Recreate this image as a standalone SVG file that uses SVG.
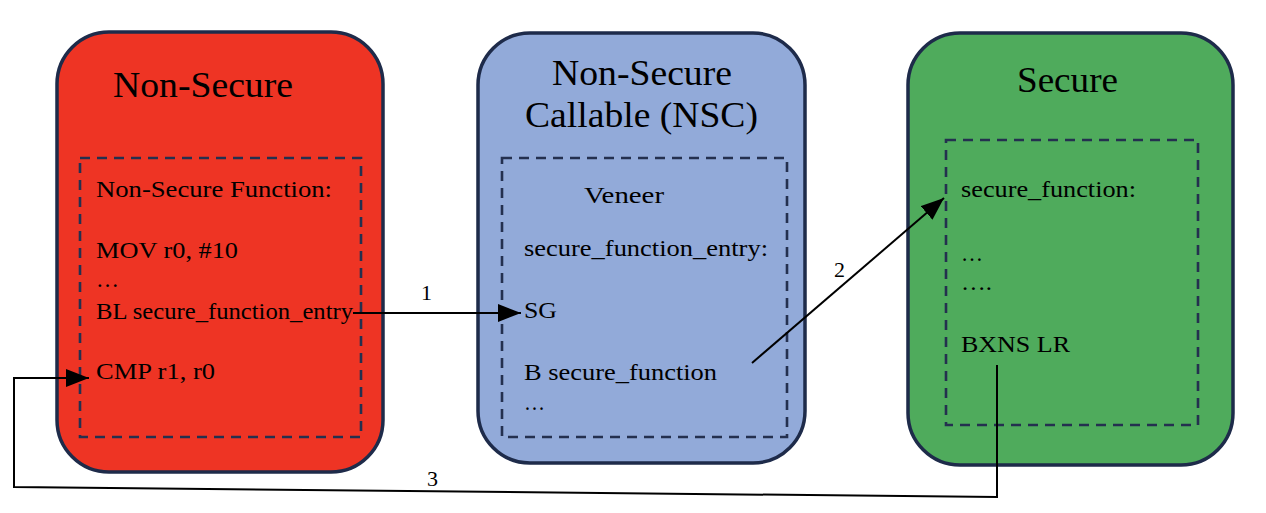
<svg xmlns="http://www.w3.org/2000/svg" width="1266" height="513" viewBox="0 0 1266 513">
<style>
.box{stroke:#1E2B4A;stroke-width:3.5}
.inner{fill:none;stroke:#24304F;stroke-width:2.6;stroke-dasharray:10 7}
text{font-family:"Liberation Serif","Times New Roman",serif;fill:#000}
.t{font-size:36px}
.b{font-size:24px}
.l{font-size:22px}
.c{fill:none;stroke:#000;stroke-width:2}
</style>
<defs>
<marker id="ah" markerUnits="userSpaceOnUse" markerWidth="24" markerHeight="18" refX="23" refY="9" orient="auto">
<path d="M0,0 L23,9 L0,18 z" fill="#000"/>
</marker>
</defs>
<rect width="1266" height="513" fill="#fff"/>
<g id="non-secure">
<rect class="box" x="57" y="32" width="326" height="440" rx="52" fill="#EE3424"/>
<rect class="inner" x="80" y="158" width="281" height="279"/>
<text class="t" x="113" y="97" textLength="180" lengthAdjust="spacingAndGlyphs">Non-Secure</text>
<text class="b" x="96" y="197" textLength="236" lengthAdjust="spacingAndGlyphs">Non-Secure Function:</text>
<text class="b" x="96" y="258" textLength="142" lengthAdjust="spacingAndGlyphs">MOV r0, #10</text>
<text class="b" x="96" y="287" textLength="23" lengthAdjust="spacingAndGlyphs">…</text>
<text class="b" x="96" y="319" textLength="257" lengthAdjust="spacingAndGlyphs">BL secure_function_entry</text>
<text class="b" x="96" y="379" textLength="119" lengthAdjust="spacingAndGlyphs">CMP r1, r0</text>
</g>
<g id="nsc">
<rect class="box" x="478" y="33" width="327" height="430" rx="52" fill="#92AAD9"/>
<rect class="inner" x="502" y="158" width="285" height="279"/>
<text class="t" x="552" y="85" textLength="180" lengthAdjust="spacingAndGlyphs">Non-Secure</text>
<text class="t" x="525" y="127" textLength="233" lengthAdjust="spacingAndGlyphs">Callable (NSC)</text>
<text class="b" x="584" y="203" textLength="80" lengthAdjust="spacingAndGlyphs">Veneer</text>
<text class="b" x="524" y="256" textLength="244" lengthAdjust="spacingAndGlyphs">secure_function_entry:</text>
<text class="b" x="524" y="318" textLength="33" lengthAdjust="spacingAndGlyphs">SG</text>
<text class="b" x="524" y="380" textLength="193" lengthAdjust="spacingAndGlyphs">B secure_function</text>
<text class="b" x="524" y="410" textLength="21" lengthAdjust="spacingAndGlyphs">…</text>
</g>
<g id="secure">
<rect class="box" x="908" y="33" width="325" height="432" rx="52" fill="#4FAB5C"/>
<rect class="inner" x="946" y="140" width="252" height="285"/>
<text class="t" x="1017" y="92" textLength="101" lengthAdjust="spacingAndGlyphs">Secure</text>
<text class="b" x="961" y="197" textLength="175" lengthAdjust="spacingAndGlyphs">secure_function:</text>
<text class="b" x="961" y="261" textLength="22" lengthAdjust="spacingAndGlyphs">…</text>
<text class="b" x="961" y="290" textLength="31" lengthAdjust="spacingAndGlyphs">….</text>
<text class="b" x="961" y="352" textLength="109" lengthAdjust="spacingAndGlyphs">BXNS LR</text>
</g>
<g id="connectors">
<path class="c" d="M353,313 L521,313" marker-end="url(#ah)"/>
<path class="c" d="M752,363 L944,198" marker-end="url(#ah)"/>
<path class="c" d="M997,365 L997,497 L14,487 L14,378 L89,378" marker-end="url(#ah)"/>
<text class="l" x="421" y="300">1</text>
<text class="l" x="834" y="277">2</text>
<text class="l" x="427" y="486">3</text>
</g>
</svg>
